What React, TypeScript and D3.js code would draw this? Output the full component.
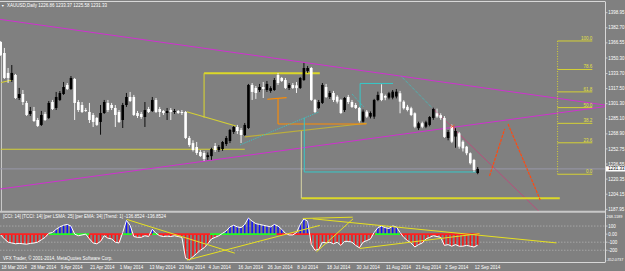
import React from "react";
import * as d3 from "d3";

const W = 625;
const H = 271;

// ---------- OHLC data (XAUUSD Daily, 18 Mar 2014 .. 15 Sep 2014) ----------
const open = [
  1367.5, 1355.7, 1334.3, 1326.7, 1332.1, 1307.4, 1311.7, 1302.1, 1290.3, 1293.5,
  1283.8, 1278.5, 1290.3, 1286.0, 1303.1, 1296.7, 1305.3, 1311.7, 1321.4, 1317.1,
  1327.8, 1303.1, 1299.9, 1294.5, 1292.4, 1289.2, 1286.0, 1281.7, 1291.3, 1302.1,
  1299.9, 1296.7, 1292.4, 1283.8, 1299.9, 1308.5, 1308.5, 1291.3, 1290.3, 1287.0,
  1295.6, 1293.5, 1305.3, 1295.6, 1293.5, 1291.3, 1294.5, 1292.4, 1293.5, 1292.4,
  1292.4, 1264.5, 1259.0, 1254.8, 1249.5, 1248.4, 1244.0, 1245.0, 1255.9, 1251.6,
  1252.6, 1258.0, 1261.2, 1271.0, 1276.3, 1273.1, 1267.7, 1275.2, 1321.4, 1318.2,
  1316.0, 1319.2, 1316.0, 1315.0, 1316.0, 1332.1, 1328.9, 1326.7, 1318.2, 1321.4,
  1321.0, 1318.2, 1326.7, 1336.4, 1339.6, 1305.3, 1296.7, 1302.1, 1319.2, 1308.5,
  1312.8, 1308.8, 1305.3, 1294.5, 1308.5, 1303.1, 1299.9, 1296.7, 1282.0, 1292.8,
  1287.4, 1287.4, 1305.3, 1312.5, 1309.6, 1307.8, 1307.8, 1309.0, 1312.5, 1303.5,
  1298.0, 1296.4, 1291.0, 1275.0, 1280.3, 1276.6, 1278.5, 1286.0, 1291.0, 1289.0,
  1286.0, 1264.5, 1276.6, 1266.0, 1269.5, 1260.5, 1255.2, 1248.1, 1240.9, 1226.86,
];
const high = [
  1368.6, 1361.1, 1339.6, 1342.8, 1333.2, 1318.2, 1316.0, 1304.2, 1297.8, 1297.8,
  1286.0, 1293.5, 1292.4, 1304.2, 1305.3, 1313.9, 1314.9, 1324.6, 1323.5, 1331.0,
  1328.9, 1305.3, 1303.1, 1296.7, 1302.1, 1291.3, 1287.0, 1299.9, 1305.3, 1305.3,
  1302.1, 1299.9, 1294.5, 1302.1, 1312.8, 1313.9, 1310.7, 1293.5, 1292.4, 1303.1,
  1297.8, 1308.5, 1307.4, 1297.8, 1294.5, 1296.7, 1296.7, 1295.6, 1294.5, 1294.5,
  1293.5, 1266.6, 1262.0, 1260.2, 1251.6, 1250.6, 1249.0, 1254.0, 1259.1, 1256.9,
  1261.2, 1266.6, 1274.2, 1277.4, 1278.5, 1275.2, 1280.6, 1322.5, 1323.5, 1320.3,
  1322.5, 1324.6, 1325.7, 1320.0, 1328.9, 1334.3, 1330.0, 1328.9, 1323.5, 1323.5,
  1324.6, 1330.0, 1345.0, 1341.8, 1340.7, 1306.4, 1305.3, 1323.5, 1322.5, 1315.0,
  1315.0, 1310.5, 1306.4, 1308.5, 1310.7, 1305.3, 1302.1, 1297.8, 1295.0, 1294.5,
  1293.0, 1306.5, 1314.2, 1322.1, 1311.0, 1314.0, 1316.0, 1317.0, 1315.0, 1305.0,
  1300.0, 1298.0, 1292.0, 1282.0, 1282.0, 1283.0, 1288.0, 1297.0, 1296.0, 1291.0,
  1288.0, 1273.0, 1279.0, 1275.0, 1271.0, 1262.0, 1256.0, 1249.0, 1242.0, 1233.37,
];
const low = [
  1352.5, 1327.8, 1323.5, 1324.6, 1306.4, 1305.3, 1299.9, 1288.1, 1288.1, 1281.7,
  1276.3, 1277.4, 1282.7, 1284.9, 1294.5, 1294.5, 1304.2, 1310.7, 1316.0, 1316.0,
  1283.8, 1292.4, 1291.3, 1292.4, 1280.6, 1276.3, 1277.4, 1268.0, 1290.3, 1292.4,
  1294.5, 1276.3, 1280.6, 1275.2, 1297.8, 1303.1, 1288.1, 1286.0, 1285.0, 1276.3,
  1291.3, 1292.4, 1291.3, 1287.0, 1289.2, 1283.8, 1283.8, 1290.3, 1290.3, 1289.2,
  1263.4, 1255.0, 1250.0, 1246.3, 1244.1, 1239.8, 1241.0, 1241.0, 1249.5, 1249.5,
  1250.6, 1255.9, 1259.0, 1268.8, 1268.8, 1259.1, 1266.6, 1274.2, 1305.3, 1306.4,
  1313.9, 1307.4, 1313.9, 1313.0, 1315.0, 1321.4, 1324.6, 1317.1, 1316.0, 1317.1,
  1312.8, 1317.1, 1325.7, 1334.3, 1304.2, 1291.3, 1295.6, 1301.0, 1307.4, 1306.4,
  1303.1, 1301.5, 1290.3, 1292.4, 1301.0, 1296.7, 1295.6, 1281.0, 1281.0, 1286.0,
  1285.5, 1285.0, 1304.0, 1304.0, 1305.0, 1306.0, 1306.0, 1307.0, 1291.0, 1295.0,
  1293.0, 1288.0, 1275.0, 1273.0, 1275.0, 1275.0, 1277.0, 1284.0, 1286.0, 1284.0,
  1264.5, 1262.0, 1259.0, 1254.0, 1253.0, 1250.0, 1246.0, 1236.0, 1228.0, 1225.58,
];
const close = [
  1353.6, 1328.9, 1328.9, 1334.3, 1307.4, 1311.7, 1303.1, 1289.2, 1293.5, 1282.7,
  1277.4, 1289.2, 1283.8, 1302.1, 1295.6, 1308.5, 1312.8, 1319.2, 1317.1, 1328.9,
  1302.1, 1294.5, 1292.4, 1293.5, 1283.8, 1281.7, 1278.5, 1291.3, 1303.1, 1294.5,
  1296.7, 1289.2, 1281.7, 1299.9, 1308.5, 1304.2, 1289.2, 1288.1, 1287.0, 1294.5,
  1292.4, 1305.3, 1292.4, 1292.4, 1291.3, 1293.5, 1292.4, 1293.5, 1291.3, 1291.3,
  1264.5, 1257.0, 1251.6, 1248.4, 1245.2, 1242.0, 1246.0, 1252.6, 1251.6, 1254.8,
  1260.2, 1264.5, 1273.1, 1276.3, 1272.0, 1267.7, 1278.5, 1321.4, 1313.9, 1312.8,
  1319.2, 1317.1, 1322.5, 1318.0, 1326.7, 1323.5, 1325.7, 1318.2, 1321.4, 1318.2,
  1318.0, 1328.9, 1339.6, 1339.6, 1305.3, 1292.4, 1303.1, 1321.4, 1308.5, 1312.8,
  1305.3, 1303.5, 1291.3, 1307.4, 1303.1, 1297.8, 1296.7, 1283.0, 1292.8, 1287.4,
  1291.3, 1305.3, 1310.7, 1305.3, 1307.8, 1312.5, 1314.2, 1314.2, 1303.5, 1296.4,
  1294.5, 1289.2, 1276.6, 1280.3, 1276.6, 1281.3, 1287.0, 1295.6, 1287.5, 1286.0,
  1265.6, 1270.9, 1260.5, 1272.0, 1255.2, 1253.4, 1248.1, 1237.4, 1230.2, 1231.33,
];

// ---------- CCI indicator values per bar ----------
const cci = [
  -10, -60, -100, -110, -120, -115, -120, -125, -115, -110,
  -100, -70, -40, 10, 20, 60, 90, 110, 120, 100,
  0, -20, -10, 0, -60, -110, -120, -90, -20, -50,
  -60, -100, -110, 20, 170, 110, -30, -40, -40, -20,
  -30, 60, 10, -20, -30, -25, -30, -20, -30, -40,
  -300, -320, -280, -240, -200, -170, -120, -60, -40, -20,
  10, 40, 90, 110, 90, 80, 120, 200, 160, 130,
  120, 110, 100, 90, 120, 100, 60, 10, -10, -10,
  20, 120, 190, 160, -130, -200, -190, -100, -110, -100,
  -120, -100, -140, -90, -90, -100, -140, -170, -100, -80,
  -60, 20, 80, 100, 80, 70, 100, 90, 20, -40,
  -80, -110, -160, -130, -110, -60, -40, -20, -30, -40,
  -140, -130, -150, -130, -150, -150, -140, -150, -160, -136.8524,
];
// trend segments on the zero line: [fromBar, toBar, up?1:0]
const trendSegments = [
  [0, 13, 0], [13, 24, 1], [24, 33, 0], [33, 35.5, 1], [35.5, 41, 0],
  [41, 42.6, 1], [42.6, 56.6, 0], [56.6, 74.6, 1], [74.6, 101.2, 0],
  [101.2, 108, 1], [108, 129.4, 0],
];

const dateLabels = [
  "18 Mar 2014", "28 Mar 2014", "9 Apr 2014", "21 Apr 2014", "1 May 2014",
  "13 May 2014", "23 May 2014", "4 Jun 2014", "16 Jun 2014", "26 Jun 2014",
  "8 Jul 2014", "18 Jul 2014", "30 Jul 2014", "11 Aug 2014", "21 Aug 2014",
  "2 Sep 2014", "12 Sep 2014",
];
const barsPerDateLabel = 8;

const priceTicks = [
  1398.95, 1382.7, 1366.55, 1350.3, 1333.7, 1317.5, 1301.3, 1285.1,
  1268.9, 1252.75, 1236.55, 1220.35, 1204.15, 1187.95,
];
const cciTicks = [100, 0, -100, -200];
const cciTickLabels = ["100", "0.00", "-100", "-200"];
const cciMax = 268.1189;
const cciMin = -352.0737;

// ---------- drawn objects, in [bar, price] ----------
const magentaRays = [
  [0, 1391.7, 150, 1307.4],
  [0, 1209.8, 150, 1290.9],
];
const pinkRays = [[116.8, 1296.4, 145.2, 1187.2]];
const cyanDotted = [
  [108.4, 1330.3, 116.8, 1296.4],
  [95.0, 1311.7, 98.2, 1297.8],
  [64.7, 1257.0, 86.0, 1292.4],
];
const cyanSolid = [
  [82.1, 1286.0, 82.1, 1228.0],
  [82.1, 1228.0, 128.7, 1228.0],
  [97.2, 1323.0, 97.2, 1282.7],
  [97.2, 1323.0, 106.1, 1323.0],
];
const yellowThin = [
  [55, 1333.9, 55, 1286.3],
  [50.3, 1292.7, 63.6, 1277.4],
  [0.1, 1324.0, 3.05, 1326.7],
  [0, 1252.4, 66, 1252.4],
];
const yellowThick = [
  [55, 1333.9, 86.3, 1333.9],
  [81.3, 1199.8, 151.2, 1199.8],
];
const paleLines = [[81.3, 1273.1, 81.3, 1199.8]];
const oliveLines = [[66, 1265.6, 99, 1280.3]];
const orangeLines = [
  [72.1, 1306.0, 77.3, 1307.8],
  [75, 1307.0, 75, 1279.5],
  [75, 1279.5, 98.9, 1279.5],
];
const projectionLines = [
  [132.2, 1223.7, 136.3, 1274.2],
  [137.2, 1279.5, 145.9, 1198.0],
];
const crossMarks = [[122.2, 1276.8]];

const fibLevels = [0, 23.6, 38.2, 50, 61.8, 78.6, 100];
const fibLabels = ["0.0", "23.6", "38.2", "50.0", "61.8", "78.6", "100.0"];
const fibBarFrom = 150.6;
const fibBarTo = 160;

const indicatorLines = [
  [34.1, 182, 63.3, -236],
  [50.4, -322, 86.3, 108],
  [81.7, 194, 95.2, 210],
  [85.4, -220, 95.3, 190],
  [84.4, 190, 150.3, -109],
  [97.1, -178, 129.5, 6],
];

// ---------- layout ----------
const plotRight = 605;
const mainTop = 2;
const mainBottom = 211;
const indTop = 212.5;
const indBottom = 262.5;

const FONT = "'Liberation Sans', Arial, sans-serif";
const FS = 4.5;

export default function App() {
  const n = open.length;
  const x = d3.scaleLinear().domain([0, n - 1]).range([0.7, 477.7]);
  const y = d3.scaleLinear().domain([1187.95, 1398.95]).range([209.3, 12.7]);
  const yc = d3.scaleLinear().domain([cciMin, cciMax]).range([indBottom, indTop]);

  const seg = (s: number[], key: string, stroke: string, w: number, dash?: string) => (
    <line key={key} x1={x(s[0])} y1={y(s[1])} x2={x(s[2])} y2={y(s[3])}
      stroke={stroke} strokeWidth={w} strokeDasharray={dash} />
  );
  // ray: extends both ways (both=true) or only forward from its first point
  const ray = (s: number[], key: string, stroke: string, w: number, both: boolean) => {
    const slope = (s[3] - s[1]) / (s[2] - s[0]);
    const a = both ? -2 : s[0], b = 170;
    return (
      <line key={key} x1={x(a)} y1={y(s[1] + slope * (a - s[0]))}
        x2={x(b)} y2={y(s[1] + slope * (b - s[0]))} stroke={stroke} strokeWidth={w} />
    );
  };

  const cciLine = d3.line<number>().x((_, i) => x(i)).y((v) => yc(v))(cci) || "";
  const fibLow = low[n - 1];
  const fibHigh = d3.max(high) as number;
  const fibPrice = (lv: number) => fibLow + (fibHigh - fibLow) * lv / 100;

  const fmt = (v: number) => v.toFixed(2);
  const title = `XAUUSD,Daily  ${fmt(open[n - 1])} ${fmt(high[n - 1])} ${fmt(low[n - 1])} ${fmt(close[n - 1])}`;
  const lastClose = close[n - 1];

  return (
    <svg width={W} height={H} style={{ position: "absolute", left: 0, top: 0, display: "block" }}
      fontFamily={FONT}>
      <defs>
        <clipPath id="mainClip"><rect x={0} y={mainTop} width={plotRight} height={mainBottom - mainTop} /></clipPath>
        <clipPath id="indClip"><rect x={0} y={indTop} width={plotRight} height={indBottom - indTop} /></clipPath>
      </defs>
      <rect x={0} y={0} width={W} height={H} fill="#808080" />

      {/* main panel */}
      <g clipPath="url(#mainClip)">
        <line x1={1.5} y1={43} x2={1.5} y2={mainBottom} stroke="#c8c8c8" strokeWidth={1} />
        {/* bid line */}
        <line x1={0} x2={plotRight} y1={y(lastClose)} y2={y(lastClose)} stroke="#9797a8" strokeWidth={1} />
        {magentaRays.map((s, i) => ray(s, "mg" + i, "#d030d0", 1, true))}
        {pinkRays.map((s, i) => ray(s, "pk" + i, "#c8407a", 0.8, false))}
        {yellowThin.map((s, i) => seg(s, "yt" + i, "#d4d034", 1.1))}
        {yellowThick.map((s, i) => seg(s, "yk" + i, "#dcd828", 2))}
        {paleLines.map((s, i) => seg(s, "pl" + i, "#d6d2a4", 1))}
        {oliveLines.map((s, i) => seg(s, "ol" + i, "#bcae3c", 1.2))}
        {orangeLines.map((s, i) => seg(s, "or" + i, "#ff8c00", 1.1))}
        {cyanSolid.map((s, i) => seg(s, "cs" + i, "#36c8c8", 1))}
        {cyanDotted.map((s, i) => seg(s, "cd" + i, "#36c8c8", 1, "1,1"))}

        {/* candles */}
        {open.map((o, i) => {
          const c = close[i];
          const bull = c >= o;
          const col = bull ? "#000000" : "#ffffff";
          const yo = y(o), ycl = y(c);
          const top = Math.min(yo, ycl);
          const h = Math.max(0.8, Math.abs(yo - ycl));
          return (
            <g key={"c" + i}>
              <line x1={x(i)} x2={x(i)} y1={y(high[i])} y2={y(low[i])} stroke={col} strokeWidth={0.9} />
              <rect x={x(i) - 1.3} y={top} width={2.6} height={h} fill={col} />
            </g>
          );
        })}

        {projectionLines.map((s, i) => seg(s, "pj" + i, "#ff4a10", 1.2, "3,1"))}
        {crossMarks.map((m, i) => (
          <g key={"x" + i} stroke="#ff5020" strokeWidth={0.8}>
            <line x1={x(m[0]) - 2} x2={x(m[0]) + 2} y1={y(m[1]) - 1.5} y2={y(m[1]) + 1.5} />
            <line x1={x(m[0]) - 2} x2={x(m[0]) + 2} y1={y(m[1]) + 1.5} y2={y(m[1]) - 1.5} />
          </g>
        ))}

        {/* fibonacci */}
        <line x1={x(fibBarFrom)} x2={x(fibBarFrom)} y1={y(fibPrice(100))} y2={y(fibPrice(0))}
          stroke="#d4d034" strokeWidth={1} strokeDasharray="1,1.5" />
        {fibLevels.map((lv, i) => (
          <g key={"f" + i}>
            <line x1={x(fibBarFrom)} x2={x(fibBarTo)} y1={y(fibPrice(lv))} y2={y(fibPrice(lv))}
              stroke="#d4d034" strokeWidth={1} />
            <text x={x(fibBarTo)} y={y(fibPrice(lv)) - 1} fontSize={FS} fill="#e4e040" textAnchor="end">
              {fibLabels[i]}
            </text>
          </g>
        ))}
      </g>

      {/* title */}
      <text x={1} y={6.6} fontSize={3.6} fill="#ffffff">▼</text>
      <text x={7} y={6.8} fontSize={FS} fill="#ffffff">{title}</text>

      {/* frame */}
      <line x1={0} x2={plotRight} y1={1.5} y2={1.5} stroke="#d8d8d8" strokeWidth={1} />
      <line x1={plotRight + 0.5} x2={plotRight + 0.5} y1={1.5} y2={indBottom} stroke="#d8d8d8" strokeWidth={1} />
      <line x1={0} x2={plotRight} y1={mainBottom + 0.7} y2={mainBottom + 0.7} stroke="#c8c8c8" strokeWidth={2} />
      <line x1={0} x2={plotRight} y1={indBottom} y2={indBottom} stroke="#d8d8d8" strokeWidth={1} />

      {/* price axis */}
      {priceTicks.map((p, i) => (
        <g key={"pt" + i}>
          <line x1={plotRight} x2={plotRight + 2.5} y1={y(p)} y2={y(p)} stroke="#d8d8d8" strokeWidth={0.8} />
          <text x={608.3} y={y(p) + 1.6} fontSize={FS} fill="#ffffff">{p.toFixed(2)}</text>
        </g>
      ))}
      <rect x={plotRight + 1} y={y(lastClose) - 2.6} width={W - plotRight - 1} height={5.2} fill="#ffffff" />
      <text x={608.3} y={y(lastClose) + 1.6} fontSize={FS} fill="#000000">{lastClose.toFixed(2)}</text>

      {/* indicator panel */}
      <g clipPath="url(#indClip)">
        {cciTicks.filter((v) => v !== 0).map((v, i) => (
          <line key={"cg" + i} x1={0} x2={plotRight} y1={yc(v)} y2={yc(v)} stroke="#b4b4b4"
            strokeWidth={0.7} strokeDasharray="1.5,1.5" />
        ))}
        {cci.map((v, i) => (
          <line key={"h" + i} x1={x(i)} x2={x(i)} y1={yc(0)} y2={yc(v)}
            stroke={v >= 0 ? "#1010ff" : "#ff1010"} strokeWidth={1.5} />
        ))}
        {trendSegments.map((s, i) => (
          <line key={"ts" + i} x1={x(s[0])} x2={x(s[1])} y1={yc(0)} y2={yc(0)}
            stroke={s[2] ? "#20ff20" : "#ff2020"} strokeWidth={1.6} />
        ))}
        <path d={cciLine} fill="none" stroke="#ffffff" strokeWidth={1} />
        {indicatorLines.map((s, i) => (
          <line key={"il" + i} x1={x(s[0])} y1={yc(s[1])} x2={x(s[2])} y2={yc(s[3])}
            stroke="#e6e020" strokeWidth={1} />
        ))}
      </g>
      <text x={3} y={218.4} fontSize={FS} fill="#ffffff">
        [CCI: 14] [TCCI: 14] [per LSMA: 25] [per EMA: 34] [Trend: 1] -136.8524 -136.8524
      </text>
      <text x={3} y={260} fontSize={FS} fill="#ffffff">VFX Trader, © 2001-2014, MetaQuotes Software Corp.</text>
      <text x={606.5} y={218.4} fontSize={3.9} fill="#ffffff">{cciMax.toFixed(4)}</text>
      {cciTicks.map((v, i) => (
        <g key={"ct" + i}>
          <line x1={plotRight} x2={plotRight + 2.5} y1={yc(v)} y2={yc(v)} stroke="#d8d8d8" strokeWidth={0.8} />
          <text x={608.3} y={yc(v) + 1.6} fontSize={FS} fill="#ffffff">{cciTickLabels[i]}</text>
        </g>
      ))}
      <text x={606.2} y={261} fontSize={3.8} fill="#ffffff">{cciMin.toFixed(4)}</text>

      {/* date axis */}
      {dateLabels.map((d, i) => (
        <text key={"d" + i} x={x(i * barsPerDateLabel) + 0.8} y={268.6} fontSize={FS} fill="#ffffff">{d}</text>
      ))}
    </svg>
  );
}
